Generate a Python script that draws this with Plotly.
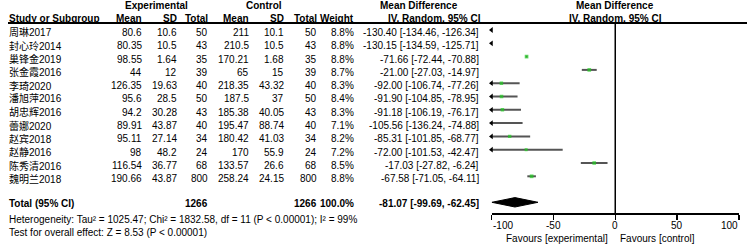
import plotly.graph_objects as go

studies = ["周琳2017", "封心玲2014", "巢锋金2019", "张金霞2016", "李琦2020", "潘旭萍2016",
           "胡忠辉2016", "蕾娜2020", "赵宾2018", "赵静2016", "陈秀清2016", "魏明兰2018"]
exp_mean = [80.6, 80.35, 98.55, 44, 126.35, 95.6, 94.2, 89.91, 95.11, 98, 116.54, 190.66]
exp_sd = [10.6, 10.5, 1.64, 12, 19.63, 28.5, 30.28, 43.87, 27.14, 48.2, 36.77, 43.87]
exp_n = [50, 43, 35, 39, 40, 50, 43, 40, 34, 24, 68, 800]
ctl_mean = [211, 210.5, 170.21, 65, 218.35, 187.5, 185.38, 195.47, 180.42, 170, 133.57, 258.24]
ctl_sd = [10.1, 10.5, 1.68, 15, 43.32, 37, 40.05, 88.74, 41.03, 55.9, 26.6, 24.15]
ctl_n = [50, 43, 35, 39, 40, 50, 43, 40, 34, 24, 68, 800]
weight = [8.8, 8.8, 8.8, 8.7, 8.3, 8.4, 8.3, 7.1, 8.2, 7.2, 8.5, 8.8]
md = [-130.40, -130.15, -71.66, -21.00, -92.00, -91.90, -91.18, -105.56, -85.31, -72.00, -17.03, -67.58]
lo = [-134.46, -134.59, -72.44, -27.03, -106.74, -104.85, -106.19, -136.24, -101.85, -101.53, -27.82, -71.05]
hi = [-126.34, -125.71, -70.88, -14.97, -77.26, -78.95, -76.17, -74.88, -68.77, -42.47, -6.24, -64.11]
total_exp, total_ctl, total_weight = 1266, 1266, 100.0
pooled = (-81.07, -99.69, -62.45)
ticks = [-100, -50, 0, 50, 100]
het_text = "Heterogeneity: Tau² = 1025.47; Chi² = 1832.58, df = 11 (P < 0.00001); I² = 99%"
test_text = "Test for overall effect: Z = 8.53 (P < 0.00001)"

W, H = 748, 245
XMIN, XMAX = -100, 100
FONT = "Liberation Sans, Arial, Noto Sans CJK SC"
FS = 10

def px(x):
    return x / W

def py(y):
    return 1 - y / H

row0, dy = 30.0, 13.3
rows = [row0 + i * dy for i in range(len(studies))]
total_y = rows[-1] + 26.0
text_off = 2.5
axis_y = 213

fig = go.Figure()

for i in range(len(studies)):
    fig.add_trace(go.Scatter(x=[lo[i], hi[i]], y=[rows[i], rows[i]], mode="lines",
                             line=dict(color="#555555", width=2), hoverinfo="skip",
                             showlegend=False))
fig.add_trace(go.Scatter(x=md, y=rows, mode="markers",
                         marker=dict(symbol="square", color="#22cc22",
                                     size=[w * 0.42 for w in weight], line=dict(width=0)),
                         showlegend=False, hoverinfo="skip"))
ax_x, ax_y = [], []
for i in range(len(studies)):
    if lo[i] < XMIN:
        ax_x.append(XMIN)
        ax_y.append(rows[i])
fig.add_trace(go.Scatter(x=ax_x, y=ax_y, mode="markers", cliponaxis=False,
                         marker=dict(symbol="triangle-left", color="black", size=5),
                         showlegend=False, hoverinfo="skip"))
pm, pl, ph = pooled
fig.add_trace(go.Scatter(x=[pl, pm, ph, pm, pl], y=[total_y, total_y - 4.7, total_y, total_y + 4.7, total_y],
                         mode="lines", fill="toself", fillcolor="black",
                         line=dict(color="black", width=1), showlegend=False, hoverinfo="skip"))

fig.update_layout(
    template="none",
    width=W, height=H, margin=dict(l=0, r=0, t=0, b=0, pad=0), autosize=False,
    paper_bgcolor="white", plot_bgcolor="white",
    font=dict(family=FONT, size=FS, color="black"),
    xaxis=dict(domain=[491.5 / W, 739.0 / W], range=[XMIN, XMAX], anchor="y",
               showgrid=False, zeroline=False, showline=True, automargin=False,
               linecolor="black", linewidth=1.5, ticks="outside", ticklen=5,
               tickwidth=1.5, tickcolor="black", tickvals=ticks, showticklabels=False),
    yaxis=dict(domain=[py(axis_y), 1], range=[axis_y, 0], visible=False, showgrid=False,
               automargin=False, zeroline=False),
)

fig.add_shape(type="line", xref="x", yref="y", x0=0, x1=0, y0=23, y1=axis_y,
              line=dict(color="black", width=1.5))
fig.add_shape(type="line", xref="paper", yref="paper", x0=px(8), x1=px(747), y0=py(23), y1=py(23),
              line=dict(color="black", width=2))

for t in ticks:
    anchor = "left" if t == XMIN else ("right" if t == XMAX else "center")
    fig.add_annotation(text=str(t), x=t, y=py(225), xref="x", yref="paper",
                       xanchor=anchor, yanchor="middle", showarrow=False, borderpad=0,
                       font=dict(family=FONT, size=FS, color="black"))

def ann(text, x, y, anchor="left", bold=False):
    fig.add_annotation(text=f"<b>{text}</b>" if bold else text, x=px(x), y=py(y),
                       xref="paper", yref="paper", xanchor=anchor, yanchor="middle",
                       showarrow=False, borderpad=0,
                       font=dict(family=FONT, size=FS, color="black"))

ann("Experimental", 156, 6, "center", True)
ann("Control", 264, 6, "center", True)
ann("Mean Difference", 419, 6, "center", True)
ann("Mean Difference", 615, 6, "center", True)
ann("Study or Subgroup", 8, 18, "left", True)
ann("Mean", 143, 18, "right", True)
ann("SD", 178, 18, "right", True)
ann("Total", 209, 18, "right", True)
ann("Mean", 250, 18, "right", True)
ann("SD", 285, 18, "right", True)
ann("Total", 318, 18, "right", True)
ann("Weight", 355, 18, "right", True)
ann("IV, Random, 95% CI", 434, 18, "center", True)
ann("IV, Random, 95% CI", 615, 18, "center", True)

cols = [143, 178, 209, 250, 285, 318, 355, 480]
for i, s in enumerate(studies):
    y = rows[i] + text_off
    ann(s, 8, y, "left")
    vals = [f"{exp_mean[i]:g}", f"{exp_sd[i]:g}", f"{exp_n[i]}", f"{ctl_mean[i]:g}",
            f"{ctl_sd[i]:g}", f"{ctl_n[i]}", f"{weight[i]:.1f}%",
            f"{md[i]:.2f} [{lo[i]:.2f}, {hi[i]:.2f}]"]
    for c, v in zip(cols, vals):
        ann(v, c, y, "right")

ty = total_y + 1.5
ann("Total (95% CI)", 8, ty, "left", True)
ann(str(total_exp), 209, ty, "right", True)
ann(str(total_ctl), 318, ty, "right", True)
ann(f"{total_weight:.1f}%", 355, ty, "right", True)
ann(f"{pm:.2f} [{pl:.2f}, {ph:.2f}]", 480, ty, "right", True)
ann(het_text, 8, 219, "left")
ann(test_text, 8, 232, "left")

ann("Favours [experimental]", 609, 238, "right")
ann("Favours [control]", 619, 238, "left")

fig.write_html("out.html", config={"displayModeBar": False, "staticPlot": True},
               post_script="document.body.style.margin='0px';")
